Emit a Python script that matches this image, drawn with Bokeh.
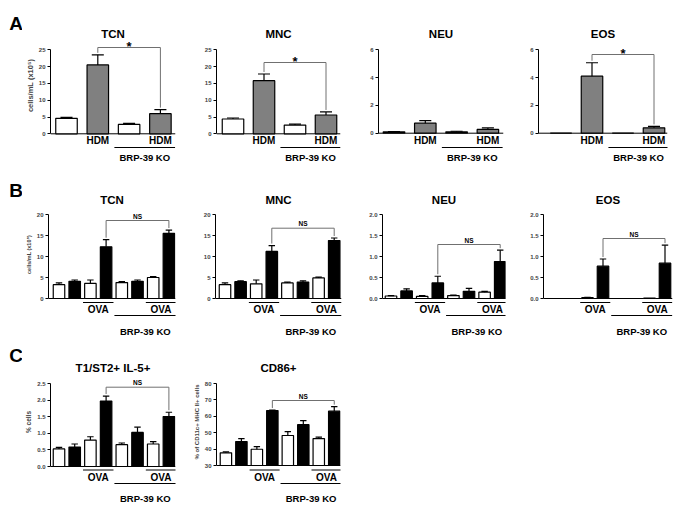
from bokeh.plotting import figure
from bokeh.layouts import column, row
from bokeh.models import FixedTicker, ColumnDataSource
from bokeh.embed import file_html
from bokeh.resources import INLINE
from bokeh.core.properties import value

FONT = "Liberation Sans"

# ---------------- data ----------------
# Panel A (HDM): groups WT-ctrl, WT-HDM, KO-ctrl, KO-HDM
A_treat = ["", "HDM", "", "HDM"]
A_colors = ["white", "#808080", "white", "#808080"]
A_TCN = [4.6, 20.5, 2.8, 6.0]
A_TCN_err = [0.3, 3.0, 0.3, 1.2]
A_MNC = [4.4, 15.8, 2.6, 5.6]
A_MNC_err = [0.3, 2.0, 0.3, 0.9]
A_NEU = [0.1, 0.72, 0.1, 0.27]
A_NEU_err = [0.02, 0.18, 0.04, 0.11]
A_EOS = [0.0, 4.1, 0.0, 0.39]
A_EOS_err = [0.0, 0.97, 0.0, 0.1]

# Panel B / C (OVA): 8 groups
B_treat = ["", "", "OVA", "OVA", "", "", "OVA", "OVA"]
B_colors = ["white", "black"] * 4
B_TCN = [3.3, 4.1, 3.6, 12.3, 3.8, 4.1, 5.0, 15.5]
B_TCN_err = [0.4, 0.3, 0.8, 1.7, 0.2, 0.3, 0.2, 0.8]
B_MNC = [3.3, 4.0, 3.5, 11.2, 3.7, 3.9, 4.9, 13.8]
B_MNC_err = [0.4, 0.2, 0.9, 1.4, 0.2, 0.3, 0.2, 0.6]
B_NEU = [0.06, 0.18, 0.05, 0.37, 0.07, 0.17, 0.15, 0.88]
B_NEU_err = [0.01, 0.05, 0.02, 0.16, 0.01, 0.07, 0.02, 0.27]
B_EOS = [0.0, 0.0, 0.02, 0.77, 0.0, 0.0, 0.01, 0.84]
B_EOS_err = [0.0, 0.0, 0.01, 0.17, 0.0, 0.0, 0.0, 0.43]
C_T1 = [0.53, 0.59, 0.80, 1.98, 0.66, 1.03, 0.68, 1.51]
C_T1_err = [0.05, 0.09, 0.10, 0.15, 0.05, 0.16, 0.07, 0.13]
C_CD86 = [37.7, 44.6, 39.9, 63.5, 48.3, 54.9, 46.4, 63.1]
C_CD86_err = [0.6, 1.8, 1.6, 0.3, 2.3, 2.5, 0.9, 2.8]

KO_label = "BRP-39 KO"
panel_letters = ["A", "B", "C"]

ticks_25 = [0, 5, 10, 15, 20, 25]
ticks_25_lbl = ["0", "5", "10", "15", "20", "25"]
ticks_6 = [0, 2, 4, 6]
ticks_6_lbl = ["0", "2", "4", "6"]
ticks_20 = [0, 5, 10, 15, 20]
ticks_20_lbl = ["0", "5", "10", "15", "20"]
ticks_2 = [0, 0.5, 1.0, 1.5, 2.0]
ticks_2_lbl = ["0.0", "0.5", "1.0", "1.5", "2.0"]
ticks_25f = [0, 0.5, 1.0, 1.5, 2.0, 2.5]
ticks_25f_lbl = ["0.0", "0.5", "1.0", "1.5", "2.0", "2.5"]
ticks_cd = [30, 40, 50, 60, 70, 80]
ticks_cd_lbl = ["30", "40", "50", "60", "70", "80"]

YLAB_CELLS = "cells/mL (x10\u2075)"

# ---------------- layout (window pixels) ----------------
ROWS = {"A": (0, 170), "B": (170, 338), "C": (338, 505)}
LETTER_COL = (0, 22)
COLS = [(22, 190), (190, 356), (356, 520), (520, 677)]

ROWSTYLE = {
    "A": dict(title_y=33, letter=(15.5, 23), kind="A", lab_y=140, brp_line=147, brp_y=157),
    "B": dict(title_y=199, letter=(15.5, 190), kind="B", ov_y=302, lab_y=308.5, brp_line=315, brp_y=331),
    "C": dict(title_y=367, letter=(15.5, 355), kind="B", ov_y=469.5, lab_y=477, brp_line=483, brp_y=498),
}


def bare_fig(w, h, xr, yr):
    p = figure(width=w, height=h, x_range=xr, y_range=yr, x_axis_type=None,
               y_axis_type=None, output_backend="svg", toolbar_location=None, title=None,
               min_border_left=0, min_border_right=0, min_border_top=0, min_border_bottom=0)
    p.outline_line_color = None
    p.grid.visible = False
    p.background_fill_color = "white"
    p.border_fill_color = "white"
    return p


def letter_strip(rowkey, letter):
    top_r, bot_r = ROWS[rowkey]
    l0, l1 = LETTER_COL
    p = bare_fig(l1 - l0, bot_r - top_r, (l0, l1), (bot_r, top_r))
    lx, ly = ROWSTYLE[rowkey]["letter"]
    p.text(x=[lx], y=[ly], text=[letter], text_font=value(FONT), text_font_style="bold",
           text_font_size="19px", text_align="center", text_baseline="middle")
    return p


def make_panel(rowkey, col, title, vals, errs, colors, treat, ticks, tick_lbls,
               geom, ylabel=None, ylabel_size="7px", ylabel_standoff=2, bracket=None):
    top_r, bot_r = ROWS[rowkey]
    cl, cr = COLS[col]
    st = ROWSTYLE[rowkey]
    axis_x, base_end, c0, dx, bw, zero_px, top_px = geom
    axis_x = int(round(axis_x))
    base_end = int(round(base_end))
    y0, y1 = ticks[0], ticks[-1]
    s = (zero_px - top_px) / (y1 - y0)

    def Y(py):
        return y0 + (zero_px - py) / s

    def X(px):
        return (px - c0) / dx

    n = len(vals)
    p = figure(width=cr - cl, height=bot_r - top_r,
               x_range=(X(axis_x), X(base_end)), y_range=(Y(bot_r), Y(top_r)),
               x_axis_type=None, output_backend="svg", toolbar_location=None,
               title=None, min_border_left=axis_x - cl, min_border_right=cr - base_end,
               min_border_top=0, min_border_bottom=0)
    p.outline_line_color = None
    p.grid.visible = False
    p.background_fill_color = "white"
    p.border_fill_color = "white"

    ax = p.yaxis[0]
    ax.ticker = FixedTicker(ticks=ticks)
    ax.major_label_overrides = {t: l for t, l in zip(ticks, tick_lbls)}
    ax.bounds = (y0, y1)
    ax.axis_line_color = "black"
    ax.axis_line_width = 1
    ax.major_tick_line_color = "black"
    ax.major_tick_in = 0
    ax.major_tick_out = 3
    ax.minor_tick_line_color = None
    ax.major_label_text_font = FONT
    ax.major_label_text_font_style = "bold"
    ax.major_label_text_font_size = "6px"
    ax.major_label_standoff = 2
    if ylabel:
        ax.axis_label = ylabel
        ax.axis_label_text_font = FONT
        ax.axis_label_text_font_style = "bold"
        ax.axis_label_text_font_size = ylabel_size
        ax.axis_label_standoff = ylabel_standoff

    idx = list(range(n))
    # baseline (x axis line)
    p.segment(x0=[X(axis_x)], y0=[y0], x1=[X(base_end)], y1=[y0], line_color="black", line_width=1)

    # bars
    src = ColumnDataSource(dict(x=idx, top=vals, color=colors))
    p.vbar(x="x", top="top", bottom=y0, width=bw / dx, fill_color="color",
           line_color="black", line_width=1.2, source=src)

    # error bars (upper)
    ex, elo, ehi = [], [], []
    for i in idx:
        if errs[i] > 0:
            ex.append(i)
            elo.append(vals[i])
            ehi.append(vals[i] + errs[i])
    cw = 0.28 * bw / dx
    p.segment(x0=ex, y0=elo, x1=ex, y1=ehi, line_color="black", line_width=1.2)
    p.segment(x0=[x - cw for x in ex], y0=ehi, x1=[x + cw for x in ex], y1=ehi,
              line_color="black", line_width=1.2)

    # title
    p.text(x=[X((axis_x + base_end) / 2)], y=[Y(st["title_y"])], text=[title],
           text_font=value(FONT), text_font_style="bold", text_font_size="11.5px",
           text_align="center", text_baseline="middle")

    # group labels
    if st["kind"] == "A":
        lx = [i for i in idx if treat[i]]
        p.text(x=lx, y=[Y(st["lab_y"])] * len(lx), text=[treat[i] for i in lx],
               text_font=value(FONT), text_font_style="bold", text_font_size="10px",
               text_align="center", text_baseline="middle")
    else:
        pairs = [(i, i + 1) for i in range(0, n - 1) if treat[i] and treat[i + 1] and i % 2 == 0]
        p.segment(x0=[a - 0.47 for a, b in pairs], y0=[Y(st["ov_y"])] * len(pairs),
                  x1=[b + 0.47 for a, b in pairs], y1=[Y(st["ov_y"])] * len(pairs),
                  line_color="black", line_width=1.2)
        p.text(x=[(a + b) / 2 for a, b in pairs], y=[Y(st["lab_y"])] * len(pairs),
               text=[treat[a] for a, b in pairs],
               text_font=value(FONT), text_font_style="bold", text_font_size="10px",
               text_align="center", text_baseline="middle")
    p.segment(x0=[n / 2 - 0.47], y0=[Y(st["brp_line"])], x1=[n - 1 + 0.47],
              y1=[Y(st["brp_line"])], line_color="black", line_width=1.2)
    p.text(x=[(n / 2 + n - 1) / 2], y=[Y(st["brp_y"])], text=[KO_label],
           text_font=value(FONT), text_font_style="bold", text_font_size="9.5px",
           text_align="center", text_baseline="middle")

    # significance bracket
    if bracket:
        a, b, lvl_px, sig = bracket
        lvl = Y(lvl_px)
        gap = 2.0 / s
        ya = vals[a] + errs[a] + gap
        yb = vals[b] + errs[b] + gap
        p.segment(x0=[a, a, b], y0=[lvl, lvl, lvl], x1=[b, a, b], y1=[lvl, ya, yb],
                  line_color="#707070", line_width=1)
        if sig == "*":
            p.text(x=[(a + b) / 2], y=[Y(lvl_px - 1)], text=[sig], text_font=value(FONT),
                   text_font_style="bold", text_font_size="13px", text_align="center",
                   text_baseline="middle")
        else:
            p.text(x=[(a + b) / 2], y=[Y(lvl_px - 4.5)], text=[sig], text_font=value(FONT),
                   text_font_style="bold", text_font_size="6.5px", text_align="center",
                   text_baseline="middle")
    return p


# geometry: axis_x, base_end, first_center, spacing, bar_width, zero_px, top_px
pA1 = make_panel("A", 0, "TCN", A_TCN, A_TCN_err, A_colors, A_treat, ticks_25, ticks_25_lbl,
                 (49.5, 175, 66, 31.3, 21.5, 133.3, 49.3), ylabel=YLAB_CELLS, ylabel_size="7.5px",
                 ylabel_standoff=1, bracket=(1, 3, 47, "*"))
pA2 = make_panel("A", 1, "MNC", A_MNC, A_MNC_err, A_colors, A_treat, ticks_25, ticks_25_lbl,
                 (216, 340, 232.5, 31, 21.5, 133.3, 49.3), bracket=(1, 3, 62, "*"))
pA3 = make_panel("A", 2, "NEU", A_NEU, A_NEU_err, A_colors, A_treat, ticks_6, ticks_6_lbl,
                 (378, 503, 393.5, 31.3, 21.5, 132.7, 49.3))
pA4 = make_panel("A", 3, "EOS", A_EOS, A_EOS_err, A_colors, A_treat, ticks_6, ticks_6_lbl,
                 (538, 667, 560.5, 31, 21.5, 132.7, 49.3), bracket=(1, 3, 54, "*"))

pB1 = make_panel("B", 0, "TCN", B_TCN, B_TCN_err, B_colors, B_treat, ticks_20, ticks_20_lbl,
                 (48.3, 175, 58.5, 15.7, 11.5, 298, 214), ylabel=YLAB_CELLS, ylabel_size="5.5px",
                 bracket=(3, 7, 220, "NS"))
pB2 = make_panel("B", 1, "MNC", B_MNC, B_MNC_err, B_colors, B_treat, ticks_20, ticks_20_lbl,
                 (215, 341, 224.5, 15.6, 11.5, 298, 214), bracket=(3, 7, 227.7, "NS"))
pB3 = make_panel("B", 2, "NEU", B_NEU, B_NEU_err, B_colors, B_treat, ticks_2, ticks_2_lbl,
                 (382, 505, 390.5, 15.6, 11.5, 298, 214), bracket=(3, 7, 244, "NS"))
pB4 = make_panel("B", 3, "EOS", B_EOS, B_EOS_err, B_colors, B_treat, ticks_2, ticks_2_lbl,
                 (543, 672, 556, 15.5, 11.5, 298, 214), bracket=(3, 7, 238, "NS"))

pC1 = make_panel("C", 0, "T1/ST2+ IL-5+", C_T1, C_T1_err, B_colors, B_treat, ticks_25f, ticks_25f_lbl,
                 (50, 175, 58.5, 15.7, 11.5, 466, 383.3), ylabel="% cells", ylabel_size="6.5px",
                 bracket=(3, 7, 386.7, "NS"))
pC2 = make_panel("C", 1, "CD86+", C_CD86, C_CD86_err, B_colors, B_treat, ticks_cd, ticks_cd_lbl,
                 (215, 340, 224.5, 15.6, 11.5, 465, 383), ylabel="% of CD11c+ MHC II+ cells",
                 ylabel_size="6px", bracket=(3, 7, 400, "NS"))

lA = letter_strip("A", panel_letters[0])
lB = letter_strip("B", panel_letters[1])
lC = letter_strip("C", panel_letters[2])

layout = column(row(lA, pA1, pA2, pA3, pA4), row(lB, pB1, pB2, pB3, pB4), row(lC, pC1, pC2))
open("out.html", "w").write(file_html(layout, INLINE))
